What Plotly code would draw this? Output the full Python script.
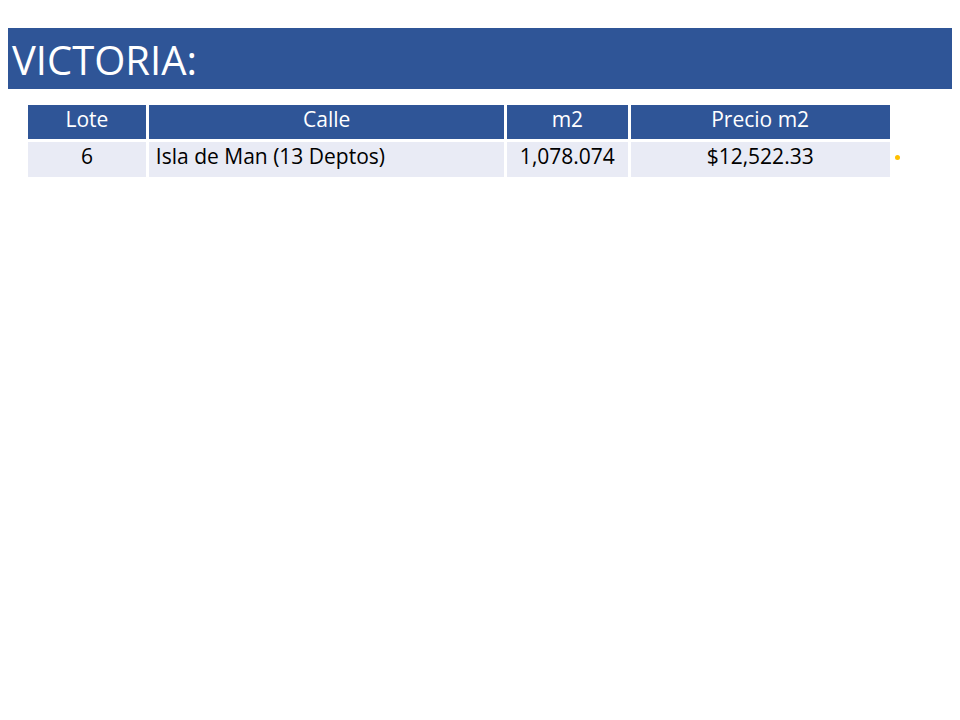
import plotly.graph_objects as go

title = "VICTORIA:"
headers = ["Lote", "Calle", "m2", "Precio m2"]
lote = ["6"]
calle = ["Isla de Man (13 Deptos)"]
m2 = ["1,078.074"]
precio = ["$12,522.33"]
col_widths = [122, 358, 124, 262]

W, H = 960, 720
OX, OY = 8, 8  # page body margin offset
fig = go.Figure()
fig.add_trace(go.Table(
    domain=dict(x=[(28-OX-2)/W, (894-OX-2)/W], y=[0, 1-(103-OY)/H]),
    columnwidth=col_widths,
    header=dict(values=headers, fill_color="#2F5597", line=dict(color="white", width=3),
                font=dict(color="white", size=21, family="Open Sans"), height=37, align="center"),
    cells=dict(values=[lote, calle, m2, precio], fill_color="#E9EBF5", line=dict(color="white", width=3),
               font=dict(color="black", size=21, family="Open Sans"), height=38,
               align=["center", "left", "center", "center"]),
))
fig.add_shape(type="rect", xref="paper", yref="paper", x0=-0.02, x1=1.02, y0=1-(89-OY)/H, y1=1-(28-OY)/H,
              fillcolor="#2F5597", line=dict(color="#2F5597", width=0), layer="below")
fig.add_shape(type="circle", xref="paper", yref="paper", x0=(895-OX)/W, x1=(900-OX)/W,
              y0=1-(160-OY)/H, y1=1-(155-OY)/H, fillcolor="#FFC000", line=dict(width=0))
fig.add_annotation(text=title, xref="paper", yref="paper", x=(10-OX)/W, y=1-(60-OY)/H,
                   xanchor="left", yanchor="middle", showarrow=False,
                   font=dict(color="white", size=40, family="Open Sans"))
fig.update_layout(width=W, height=H, margin=dict(l=0, r=0, t=0, b=0),
                  paper_bgcolor="white", plot_bgcolor="white")
fig.write_html("out.html")
